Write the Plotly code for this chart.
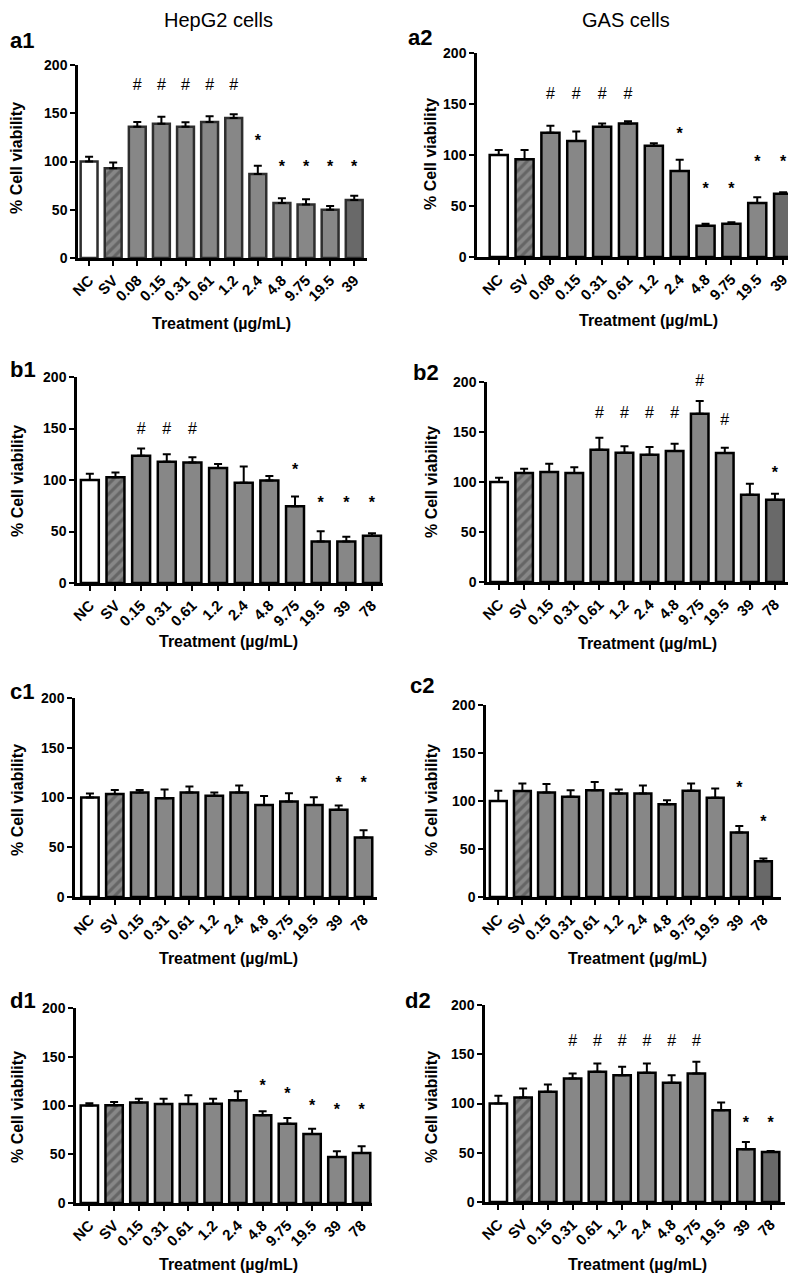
import plotly.graph_objects as go

# tick labels
labels_a = ["NC", "SV", "0.08", "0.15", "0.31", "0.61", "1.2", "2.4", "4.8", "9.75", "19.5", "39"]
labels_bcd = ["NC", "SV", "0.15", "0.31", "0.61", "1.2", "2.4", "4.8", "9.75", "19.5", "39", "78"]

# HepG2 cells
a1_mean = [100, 93, 136, 139, 136, 141, 145, 87, 57, 55.5, 50, 60]
a1_sem = [5, 6, 5, 7.5, 4.7, 6, 4, 8.5, 5, 5.5, 4, 4.5]
a1_mark = ["", "", "#", "#", "#", "#", "#", "*", "*", "*", "*", "*"]
a1_mark_y = [None, None, 178, 178, 178, 178, 178, 120, 93, 93, 93, 93]

b1_mean = [100, 102.6, 123.5, 117.7, 117, 111.6, 97.4, 99.4, 74.5, 40.3, 40.3, 45.8]
b1_sem = [6, 4.8, 7.1, 7.3, 5, 3.9, 15.6, 4.6, 9.5, 10, 4.7, 2.6]
b1_mark = ["", "", "#", "#", "#", "", "", "", "*", "*", "*", "*"]
b1_mark_y = [None, None, 149, 149, 149, None, None, None, 109, 77, 77, 77]

c1_mean = [100, 103.5, 104.9, 99.2, 104.9, 101.8, 104.9, 92.4, 96, 92.4, 87.7, 59.8]
c1_sem = [4, 4.1, 2.7, 8.8, 6.1, 3.1, 7.1, 9.1, 8.2, 7.8, 4.3, 7.4]
c1_mark = ["", "", "", "", "", "", "", "", "", "", "*", "*"]
c1_mark_y = [None] * 10 + [113.5, 113.5]

d1_mean = [100, 100.2, 103.2, 101.5, 101.5, 101.9, 105.3, 89.9, 81.4, 70.8, 47.2, 51.3]
d1_sem = [2.2, 3.4, 3.8, 5.5, 8.9, 5.1, 9.2, 4.1, 5.8, 5.4, 5.8, 6.8]
d1_mark = ["", "", "", "", "", "", "", "*", "*", "*", "*", "*"]
d1_mark_y = [None] * 7 + [119, 110.5, 98.6, 94, 94]

# GAS cells
a2_mean = [100, 95.8, 121.8, 113.7, 127.7, 131, 109, 84.4, 30.6, 32.6, 53, 62]
a2_sem = [5, 9.2, 6.9, 9.3, 3.3, 2, 2.4, 11, 2, 1.4, 5.6, 1.5]
a2_mark = ["", "", "#", "#", "#", "#", "", "*", "*", "*", "*", "*"]
a2_mark_y = [None, None, 159, 159, 159, 159, None, 120, 66, 66, 92, 92]

b2_mean = [100, 109, 110, 109, 132.3, 129.3, 127.3, 131, 168.3, 129, 87.3, 82.3]
b2_sem = [4.3, 4.3, 8.3, 5.7, 12, 6.4, 7.7, 7.3, 12.7, 5.3, 11, 6]
b2_mark = ["", "", "", "", "#", "#", "#", "#", "#", "#", "", "*"]
b2_mark_y = [None] * 4 + [168, 168, 168, 168, 200, 160.7, None, 108]

c2_mean = [100, 110.3, 108.9, 104.3, 111.3, 107.8, 107.8, 96.7, 110.6, 103.3, 67.1, 37.2]
c2_sem = [10.6, 8, 8.7, 7, 8.4, 4.2, 8.4, 4.2, 7.7, 9.7, 6.9, 2.8]
c2_mark = ["", "", "", "", "", "", "", "", "", "", "*", "*"]
c2_mark_y = [None] * 10 + [112.5, 76.7]

d2_mean = [100, 106.1, 111.9, 125.4, 132.2, 128.8, 131.2, 121, 130.5, 93.2, 53.6, 50.8]
d2_sem = [7.8, 9.2, 7.4, 5.1, 8.5, 8.5, 9.5, 7.8, 11.9, 7.8, 7.4, 1.1]
d2_mark = ["", "", "", "#", "#", "#", "#", "#", "#", "", "*", "*"]
d2_mark_y = [None] * 3 + [162.7] * 6 + [None, 79, 79]

# page body has an 8px margin, so the figure is placed at (8, 8)
OFF = 8
W, H = 796 - OFF, 1273 - OFF
FONT = "Liberation Sans, Arial, sans-serif"


def px_x(px):
    return (px - OFF) / W


def px_y(py):
    return 1 - (py - OFF) / H


# name, labels, mean, sem, marks, mark y, (axis left px, right px, y0 px, y200 px), x range, dark last bar
panels = [
    ("a1", labels_a, a1_mean, a1_sem, a1_mark, a1_mark_y, (78, 367, 258, 65), [-0.46, 11.53], True),
    ("a2", labels_a, a2_mean, a2_sem, a2_mark, a2_mark_y, (477, 795, 257, 53), [-0.84, 11.46], True),
    ("b1", labels_bcd, b1_mean, b1_sem, b1_mark, b1_mark_y, (77, 383, 583, 377), [-0.5, 11.43], False),
    ("b2", labels_bcd, b2_mean, b2_sem, b2_mark, b2_mark_y, (487, 788, 582, 382), [-0.48, 11.52], True),
    ("c1", labels_bcd, c1_mean, c1_sem, c1_mark, c1_mark_y, (75, 377, 897, 698), [-0.6, 11.54], False),
    ("c2", labels_bcd, c2_mean, c2_sem, c2_mark, c2_mark_y, (486, 781, 897, 705), [-0.51, 11.73], True),
    ("d1", labels_bcd, d1_mean, d1_sem, d1_mark, d1_mark_y, (76, 372, 1203, 1008), [-0.54, 11.42], False),
    ("d2", labels_bcd, d2_mean, d2_sem, d2_mark, d2_mark_y, (485, 785, 1202, 1005), [-0.54, 11.58], True),
]

fig = go.Figure()
annotations = []

for i, (name, labels, mean, sem, mark, mark_y, box, xr, dark_last) in enumerate(panels):
    n = "" if i == 0 else str(i + 1)
    xa, ya = "x" + n, "y" + n
    colors = ["white"] + ["#878787"] * (len(labels) - 1)
    if dark_last:
        colors[-1] = "#696969"
    shapes = ["", "/"] + [""] * (len(labels) - 2)
    line_col = "#2e2e2e" if name == "a1" else "black"

    fig.add_trace(go.Bar(
        x=labels, y=mean, xaxis=xa, yaxis=ya, width=0.7,
        marker=dict(color=colors, line=dict(color=line_col, width=2.5),
                    pattern=dict(shape=shapes, fgcolor="white", size=7, solidity=0.45)),
        error_y=dict(type="data", symmetric=False, array=sem, arrayminus=[0] * len(sem),
                     color="black", thickness=2, width=4),
        showlegend=False,
    ))
    fig.add_trace(go.Scatter(
        x=labels, y=mark_y, xaxis=xa, yaxis=ya, mode="text", text=mark,
        textfont=dict(family=FONT, size=16, color="black",
                      weight=["bold" if m == "*" else "normal" for m in mark]),
        cliponaxis=False, showlegend=False,
    ))

    left, right, y0, y200 = box
    axis_common = dict(showline=True, linewidth=2.5, linecolor="black", ticks="outside",
                       ticklen=5, tickwidth=2, tickcolor="black", showgrid=False, zeroline=False,
                       automargin=False)
    fig.layout["xaxis" + n] = dict(axis_common, domain=[px_x(left), px_x(right)], anchor=ya,
                                   type="category", categoryarray=labels, range=xr, tickangle=-45,
                                   tickfont=dict(family=FONT, size=15, color="black", weight="bold"))
    fig.layout["yaxis" + n] = dict(axis_common, domain=[px_y(y0), px_y(y200)], anchor=xa,
                                   range=[0, 200], tickvals=[0, 50, 100, 150, 200],
                                   tickfont=dict(family=FONT, size=14, color="black", weight="bold"))

# panel letters
panel_pos = {"a1": (8, 41), "a2": (406, 38), "b1": (8, 369), "b2": (411, 372),
             "c1": (8, 691), "c2": (408, 685), "d1": (8, 1000), "d2": (403, 1000)}
for key, (px, py) in panel_pos.items():
    annotations.append(dict(text=key, x=px_x(px), y=px_y(py), xref="paper", yref="paper",
                            xanchor="left", yanchor="middle", showarrow=False,
                            font=dict(family=FONT, size=22, color="black", weight="bold")))

# y titles
for px, py in [(17, 158), (430, 154), (17, 481), (431, 482), (17, 800), (431, 800), (17, 1107), (431, 1107)]:
    annotations.append(dict(text="% Cell viability", x=px_x(px), y=px_y(py), xref="paper", yref="paper",
                            textangle=-90, showarrow=False, xanchor="center", yanchor="middle",
                            font=dict(family=FONT, size=16, color="black", weight="bold")))

# x titles
for px, py in [(221, 323), (648, 320), (228, 641), (647, 643), (228, 958), (637, 958), (228, 1264), (637, 1264)]:
    annotations.append(dict(text="Treatment (µg/mL)", x=px_x(px), y=px_y(py), xref="paper", yref="paper",
                            showarrow=False, xanchor="center", yanchor="middle",
                            font=dict(family=FONT, size=16, color="black", weight="bold")))

# column titles
for txt, px in [("HepG2 cells", 218), ("GAS cells", 626)]:
    annotations.append(dict(text=txt, x=px_x(px), y=px_y(20), xref="paper", yref="paper",
                            showarrow=False, xanchor="center", yanchor="middle",
                            font=dict(family=FONT, size=20, color="black")))

fig.update_layout(width=W, height=H, margin=dict(l=0, r=0, t=0, b=0),
                  plot_bgcolor="white", paper_bgcolor="white", bargap=0.3,
                  annotations=annotations, font=dict(family=FONT))

fig.write_html("out.html")
